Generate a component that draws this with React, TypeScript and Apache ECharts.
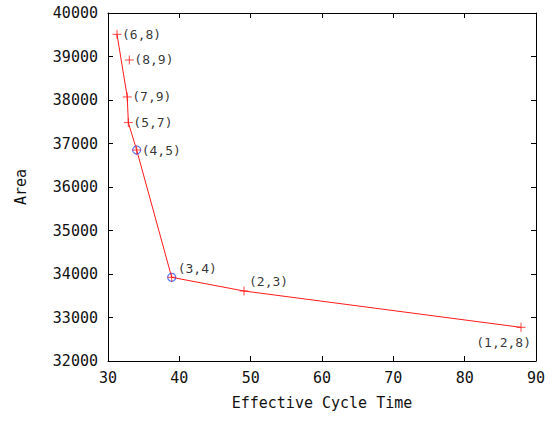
import React, { useEffect, useRef } from "react";
import * as echarts from "echarts";

const labels = ["(6,8)", "(8,9)", "(7,9)", "(5,7)", "(4,5)", "(3,4)", "(2,3)", "(1,2,8)"];
const cycleTime = [31.26, 32.99, 32.7, 32.85, 34.02, 38.93, 49.07, 87.9];
const area = [39510, 38920, 38070, 37480, 36850, 33924, 33609, 32774];
const frontLabels = ["(6,8)", "(7,9)", "(5,7)", "(4,5)", "(3,4)", "(2,3)", "(1,2,8)"];
const selectedLabels = ["(4,5)", "(3,4)"];
const xTicks = { min: 30, max: 90, interval: 10 };
const yTicks = { min: 32000, max: 40000, interval: 1000 };

const FONT = "DejaVu Sans Mono";
const RED = "#ff1a1a";
const PLUS = "path://M0,5L10,5M5,0L5,10";

function pointOf(l: string) {
  const i = labels.indexOf(l);
  return [cycleTime[i], area[i]];
}

function labelFor(l: string): any {
  const base = { show: true, fontFamily: FONT, fontSize: 13, color: "#000", formatter: l };
  if (l === "(3,4)") return { ...base, position: "right", distance: 0, offset: [-1, -9] };
  if (l === "(2,3)") return { ...base, position: "right", distance: 0, offset: [-2, -10] };
  if (l === "(1,2,8)") return { ...base, position: "bottom", distance: 2, align: "right", offset: [10, 0] };
  return { ...base, position: "right", distance: 0, offset: [-2, 0] };
}

export default function App() {
  const ref = useRef<HTMLDivElement>(null);
  useEffect(() => {
    const chart = echarts.init(ref.current!, null, { renderer: "svg" });
    const axisCommon = {
      axisLine: { show: true, lineStyle: { color: "#000", width: 1 } },
      axisTick: { show: true, inside: true, length: 5, lineStyle: { color: "#000" } },
      splitLine: { show: false },
    };
    const tickLabel = { fontFamily: FONT, fontSize: 15, color: "#111", formatter: (v: number) => String(v) };
    chart.setOption({
      animation: false,
      backgroundColor: "#fff",
      grid: { left: 108, top: 13, width: 428, height: 348 },
      xAxis: [
        {
          type: "value",
          ...xTicks,
          ...axisCommon,
          position: "bottom",
          name: "Effective Cycle Time",
          nameLocation: "middle",
          nameGap: 34,
          nameTextStyle: { fontFamily: FONT, fontSize: 15, color: "#111" },
          axisLabel: { ...tickLabel, margin: 9 },
        },
        {
          type: "value",
          ...xTicks,
          ...axisCommon,
          position: "top",
          axisLabel: { show: false },
        },
      ],
      yAxis: [
        {
          type: "value",
          ...yTicks,
          ...axisCommon,
          position: "left",
          name: "Area",
          nameLocation: "middle",
          nameGap: 80,
          nameTextStyle: { fontFamily: FONT, fontSize: 15, color: "#111" },
          axisLabel: { ...tickLabel, margin: 10 },
        },
        {
          type: "value",
          ...yTicks,
          ...axisCommon,
          position: "right",
          axisLabel: { show: false },
        },
      ],
      series: [
        {
          type: "line",
          data: frontLabels.map(pointOf),
          showSymbol: false,
          lineStyle: { color: RED, width: 1 },
          z: 2,
        },
        {
          type: "scatter",
          data: selectedLabels.map(pointOf),
          symbol: "circle",
          symbolSize: 8,
          itemStyle: { color: "none", borderColor: "#2a55ff", borderWidth: 1.2 },
          z: 3,
        },
        {
          type: "scatter",
          data: labels.map((l) => ({ value: pointOf(l), label: labelFor(l) })),
          symbol: PLUS,
          symbolSize: 9,
          itemStyle: { color: "none", borderColor: RED, borderWidth: 1 },
          z: 4,
        },
      ],
    });
    return () => chart.dispose();
  }, []);
  return (
    <div
      ref={ref}
      style={{ position: "fixed", left: 0, top: 0, width: 558, height: 422, background: "#fff" }}
    />
  );
}
